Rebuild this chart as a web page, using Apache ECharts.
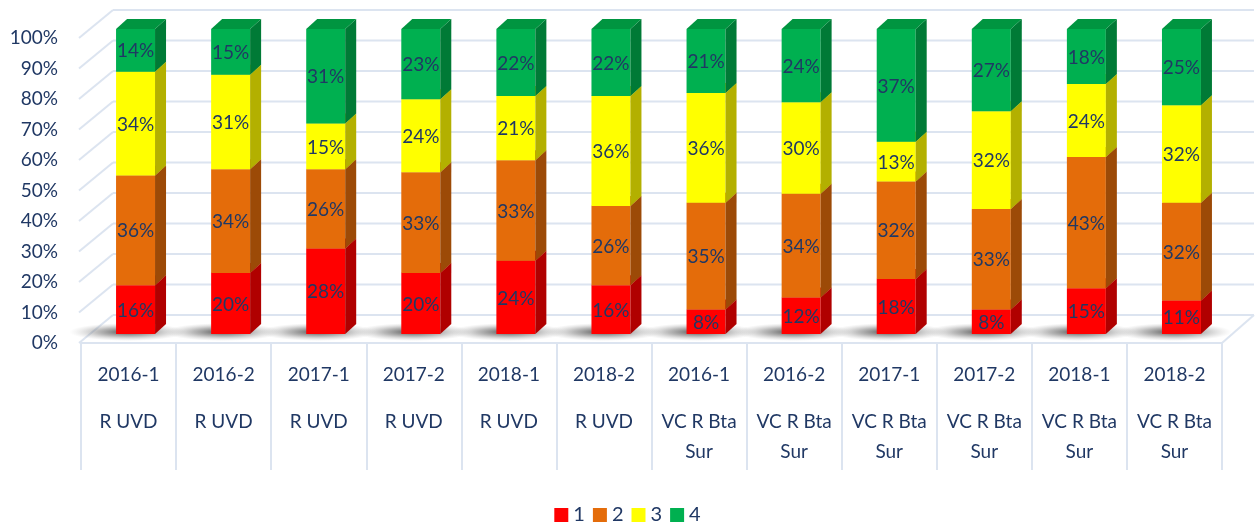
<!DOCTYPE html>
<html>
<head>
<meta charset="utf-8">
<script src="https://cdn.jsdelivr.net/npm/echarts@6/dist/echarts.min.js"></script>
<style>html,body{margin:0;padding:0;background:#fff}#c{width:1255px;height:522px}</style>
</head>
<body>
<div id="c"></div>
<script>
// ---- data ----
const periods = ['2016-1','2016-2','2017-1','2017-2','2018-1','2018-2','2016-1','2016-2','2017-1','2017-2','2018-1','2018-2'];
const groups = ['R UVD','R UVD','R UVD','R UVD','R UVD','R UVD','VC R Bta Sur','VC R Bta Sur','VC R Bta Sur','VC R Bta Sur','VC R Bta Sur','VC R Bta Sur'];
const seriesNames = ['1','2','3','4'];
const s1 = [16,20,28,20,24,16,8,12,18,8,15,11];
const s2 = [36,34,26,33,33,26,35,34,32,33,43,32];
const s3 = [34,31,15,24,21,36,36,30,13,32,24,32];
const s4 = [14,15,31,23,22,22,21,24,37,27,18,25];
const yTicks = [0,10,20,30,40,50,60,70,80,90,100];

// ---- styles ----
const seriesValues = [s1,s2,s3,s4];
const frontColors = ['#FF0000','#E46C0A','#FFFF00','#00B050'];
const sideColors  = ['#B00000','#9C4A07','#B3B000','#007A36'];
const topColors   = ['#D40000','#BF5A08','#D8D800','#009540'];
const textColor = '#203864';
const gridColor = '#DCE4F0';
const FONT = 'Lato, "Open Sans", sans-serif';
const WALL_DX = 32, WALL_DY = 28;   // depth of the 3D walls
const BAR_DX = 7, BAR_DY = 9;       // bar front face offset from front plane
const SIDE_DX = 11, SIDE_DY = 10;   // bar depth

const categories = periods.map((p, i) => p + '\n' + groups[i]);

function wrapGroup(g) {
  if (g.length <= 9) return [g];
  const k = g.lastIndexOf(' ');
  return [g.slice(0, k), g.slice(k + 1)];
}

function barRender(level) {
  return function (params, api) {
    const i = api.value(0);
    const v = api.value(1);
    let base = 0;
    for (let k = 0; k < level; k++) base += seriesValues[k][i];
    const band = api.size([1, 0])[0];
    const w = band * 0.41;
    const p0 = api.coord([i, base]);
    const p1 = api.coord([i, base + v]);
    const cx = p0[0] + BAR_DX;
    const yb = p0[1] - BAR_DY;
    const yt = p1[1] - BAR_DY;
    const x0 = cx - w / 2, x1 = cx + w / 2;
    return {
      type: 'group',
      children: [
        { type: 'rect', shape: { x: x0, y: yt, width: w, height: yb - yt },
          style: { fill: frontColors[level] } },
        { type: 'polygon', shape: { points: [[x1, yt], [x1 + SIDE_DX, yt - SIDE_DY], [x1 + SIDE_DX, yb - SIDE_DY], [x1, yb]] },
          style: { fill: sideColors[level] } },
        { type: 'polygon', shape: { points: [[x0, yt], [x0 + SIDE_DX, yt - SIDE_DY], [x1 + SIDE_DX, yt - SIDE_DY], [x1, yt]] },
          style: { fill: topColors[level] } },
        { type: 'text', style: { text: v + '%', x: cx, y: (yt + yb) / 2 + 1, align: 'center', verticalAlign: 'middle',
          fill: textColor, font: '19px ' + FONT } }
      ]
    };
  };
}

function frameRender(params, api) {
  const v = api.value(1);
  const band = api.size([1, 0])[0];
  const left = api.coord([0, v])[0] - band / 2;
  const right = api.coord([periods.length - 1, v])[0] + band / 2;
  const y = api.coord([0, v])[1];
  const children = [
    { type: 'line', shape: { x1: left + WALL_DX, y1: y - WALL_DY, x2: right + WALL_DX, y2: y - WALL_DY },
      style: { stroke: gridColor, lineWidth: 2 } },
    { type: 'line', shape: { x1: left - 2, y1: y, x2: left + WALL_DX, y2: y - WALL_DY },
      style: { stroke: gridColor, lineWidth: 2 } }
  ];
  if (v === 0) {
    children.push({ type: 'line', shape: { x1: right, y1: y, x2: right + WALL_DX, y2: y - WALL_DY },
      style: { stroke: gridColor, lineWidth: 2 } });
  }
  return { type: 'group', children };
}

function shadowRender(params, api) {
  const i = api.value(0);
  const p = api.coord([i, 0]);
  const cx = p[0] + BAR_DX - 8;
  const cy = p[1] - BAR_DY - 2;
  return {
    type: 'circle',
    shape: { cx: cx, cy: cy, r: 9 },
    originX: cx, originY: cy, scaleX: 6.5, scaleY: 1,
    style: {
      fill: {
        type: 'radial', x: 0.5, y: 0.5, r: 0.5,
        colorStops: [
          { offset: 0, color: 'rgba(50,50,50,0.85)' },
          { offset: 0.5, color: 'rgba(100,100,100,0.45)' },
          { offset: 1, color: 'rgba(170,170,170,0)' }
        ]
      }
    }
  };
}

const chart = echarts.init(document.getElementById('c'), null, { renderer: 'canvas' });

const series = [
  { name: 'frame', type: 'custom', renderItem: frameRender, data: yTicks.map(t => [0, t]),
    encode: { x: 0, y: 1 }, z: 1, silent: true, clip: false },
  { name: 'shadow', type: 'custom', renderItem: shadowRender, data: periods.map((p, i) => [i, 0]),
    encode: { x: 0, y: 1 }, z: 2, silent: true, clip: false }
];
seriesNames.forEach((n, k) => {
  series.push({
    name: n, type: 'custom', renderItem: barRender(k),
    data: seriesValues[k].map((v, i) => [i, v]),
    encode: { x: 0, y: 1 }, z: 3 + k, clip: false,
    itemStyle: { color: frontColors[k] }
  });
});

chart.setOption({
  animation: false,
  backgroundColor: '#ffffff',
  textStyle: { fontFamily: FONT },
  grid: { left: 81, right: 33, top: 38, bottom: 179, containLabel: false },
  legend: {
    data: seriesNames,
    top: 500, left: 'center',
    icon: 'rect', itemWidth: 14, itemHeight: 14, itemGap: 8,
    textStyle: { color: textColor, fontSize: 20, fontFamily: FONT }
  },
  xAxis: {
    type: 'category', data: categories, boundaryGap: true,
    axisLine: { show: true, lineStyle: { color: gridColor, width: 2 } },
    axisTick: { show: true, length: 127, lineStyle: { color: gridColor, width: 2 } },
    splitLine: { show: false },
    axisLabel: {
      interval: 0, margin: 17, color: textColor,
      formatter: function (val, idx) {
        const lines = wrapGroup(groups[idx]).map(l => '{b|' + l + '}');
        return '{a|' + periods[idx] + '}\n{g| }\n' + lines.join('\n');
      },
      rich: {
        a: { fontSize: 19, lineHeight: 30, color: textColor, fontFamily: FONT },
        g: { fontSize: 10, lineHeight: 17 },
        b: { fontSize: 19, lineHeight: 30, color: textColor, fontFamily: FONT }
      }
    }
  },
  yAxis: {
    type: 'value', min: 0, max: 100, interval: 10,
    axisLine: { show: false }, axisTick: { show: false }, splitLine: { show: false },
    axisLabel: { formatter: '{value}%', color: textColor, fontSize: 19, margin: 23, fontFamily: FONT }
  },
  series: series
});
</script>
</body>
</html>
